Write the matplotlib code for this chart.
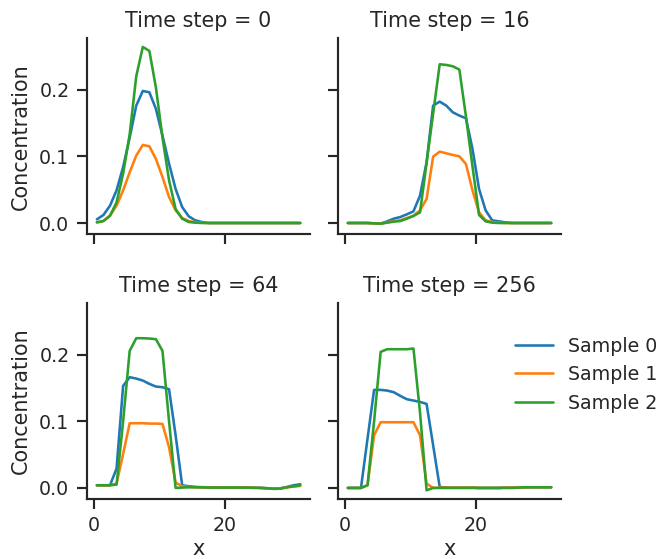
import matplotlib
matplotlib.use("Agg")
import matplotlib.pyplot as plt
import seaborn as sns
import numpy as np

sns.set_theme(context="talk", style="ticks")
plt.rcParams['font.family'] = ['DejaVu Sans']
plt.rcParams['xtick.major.pad'] = 6
plt.rcParams['ytick.major.pad'] = 6
plt.rcParams['axes.titlepad'] = 9.5

# cell centres
x = np.arange(0.5, 32.0, 1.0)

time_steps = [0, 16, 64, 256]
samples = ["Sample 0", "Sample 1", "Sample 2"]

zeros = lambda n: [0.0] * n

t0_s0 = [0.0055, 0.012, 0.026, 0.049, 0.084, 0.128, 0.176, 0.198, 0.196, 0.171, 0.131,
         0.089, 0.051, 0.024, 0.010, 0.004, 0.0015] + zeros(15)
t0_s1 = [0.001, 0.003, 0.011, 0.026, 0.049, 0.076, 0.101, 0.117, 0.115, 0.096, 0.069,
         0.039, 0.019, 0.0075, 0.003, 0.001, 0.0005] + zeros(15)
t0_s2 = [0.001, 0.003, 0.011, 0.031, 0.074, 0.133, 0.220, 0.264, 0.258, 0.203, 0.128,
         0.064, 0.021, 0.0065, 0.0015, 0.0005, 0.0] + zeros(15)

t16_s0 = [0.0, 0.0, 0.0, 0.0, -0.0005, -0.001, 0.0025, 0.0065, 0.009, 0.013, 0.0175,
          0.041, 0.091, 0.176, 0.182, 0.176, 0.166, 0.161, 0.157, 0.111, 0.051, 0.019,
          0.004, 0.0025, 0.001] + zeros(7)
t16_s1 = [0.0, 0.0, 0.0, 0.0, -0.0005, -0.001, 0.001, 0.003, 0.004, 0.0075, 0.011,
          0.019, 0.036, 0.0995, 0.107, 0.1045, 0.102, 0.100, 0.0885, 0.049, 0.016, 0.004,
          0.0015, 0.0005] + zeros(8)
t16_s2 = [0.0, 0.0, 0.0, 0.0, -0.0005, -0.001, 0.0005, 0.002, 0.003, 0.0065, 0.0105,
          0.016, 0.09, 0.164, 0.238, 0.237, 0.235, 0.230, 0.160, 0.085, 0.012, 0.0025,
          0.0005] + zeros(9)

t64_s0 = [0.004, 0.004, 0.004, 0.029, 0.153, 0.166, 0.164, 0.161, 0.156, 0.152, 0.151,
          0.148, 0.079, 0.004, 0.0025, 0.0015, 0.001, 0.001, 0.001, 0.0005, 0.0005,
          0.0005, 0.0005, 0.0005, 0.0005, 0.0, -0.0005, -0.001, -0.0005, 0.0015, 0.004,
          0.0055]
t64_s1 = [0.004, 0.004, 0.004, 0.0065, 0.051, 0.097, 0.097, 0.097, 0.0965, 0.0965, 0.096,
          0.061, 0.008, 0.0025, 0.0015, 0.001, 0.001, 0.001, 0.0005, 0.0005, 0.0005,
          0.0005, 0.0005, 0.0005, 0.0005, 0.0, -0.0005, -0.001, -0.0005, 0.001, 0.002,
          0.003]
t64_s2 = [0.004, 0.004, 0.004, 0.005, 0.10, 0.2055, 0.2245, 0.2245, 0.224, 0.223, 0.2055,
          0.10, 0.0, 0.0005, 0.001, 0.001, 0.001, 0.0005, 0.0005, 0.0005, 0.0005, 0.0005,
          0.0005, 0.0005, 0.0, 0.0, -0.0005, -0.0015, -0.001, 0.001, 0.0025, 0.004]

t256_s0 = [0.0, 0.0, 0.0, 0.074, 0.147, 0.147, 0.146, 0.1435, 0.138, 0.133, 0.131, 0.129,
           0.126, 0.064, 0.0015, 0.0005, 0.0005, 0.0005, 0.0005, 0.0005, 0.0, 0.0, 0.0,
           0.0, 0.0005, 0.0005, 0.001, 0.001, 0.001, 0.001, 0.001, 0.001]
t256_s1 = [0.0, 0.0, 0.0, 0.004, 0.079, 0.0985, 0.0985, 0.0985, 0.0985, 0.0985, 0.0985,
           0.079, 0.0065, 0.0, 0.0005, 0.0005, 0.0005, 0.0005, 0.0005, 0.0005, 0.0, 0.0,
           0.0, 0.0, 0.0005, 0.0005, 0.001, 0.001, 0.001, 0.001, 0.001, 0.001]
t256_s2 = [0.0, 0.0, 0.0, 0.004, 0.10, 0.204, 0.208, 0.208, 0.208, 0.208, 0.209, 0.113,
           -0.0035, 0.0, 0.0, 0.0, 0.0, 0.0, 0.0, 0.0, 0.0, 0.0, 0.0, 0.0, 0.0, 0.0,
           0.0005, 0.001, 0.001, 0.001, 0.001, 0.001]

series = {
    0: [t0_s0, t0_s1, t0_s2],
    16: [t16_s0, t16_s1, t16_s2],
    64: [t64_s0, t64_s1, t64_s2],
    256: [t256_s0, t256_s1, t256_s2],
}
colors = ['#1f77b4', '#ff7f0e', '#2ca02c']

DPI = 82.75
fig, axes = plt.subplots(2, 2, figsize=(662 / DPI, 559 / DPI), dpi=DPI, sharex=True, sharey=True)
fig.subplots_adjust(left=0.131, right=0.848, bottom=0.107, top=0.932, wspace=0.122, hspace=0.35)

for ax, t in zip(axes.flat, time_steps):
    for vals, lab, c in zip(series[t], samples, colors):
        ax.plot(x, vals, color=c, label=lab)
    ax.set_title(f"Time step = {t}")
    sns.despine(ax=ax)

ax.set_xticks([0, 20])
ax.set_yticks([0.0, 0.1, 0.2])
for ax in axes[:, 0]:
    ax.set_ylabel("Concentration", labelpad=7)
for ax in axes[1, :]:
    ax.set_xlabel("x", labelpad=3)

handles, labels = axes[0, 0].get_legend_handles_labels()
fig.legend(handles, labels, loc="center left", bbox_to_anchor=(0.752, 0.33), frameon=False)

fig.savefig("out.png", dpi=DPI)
